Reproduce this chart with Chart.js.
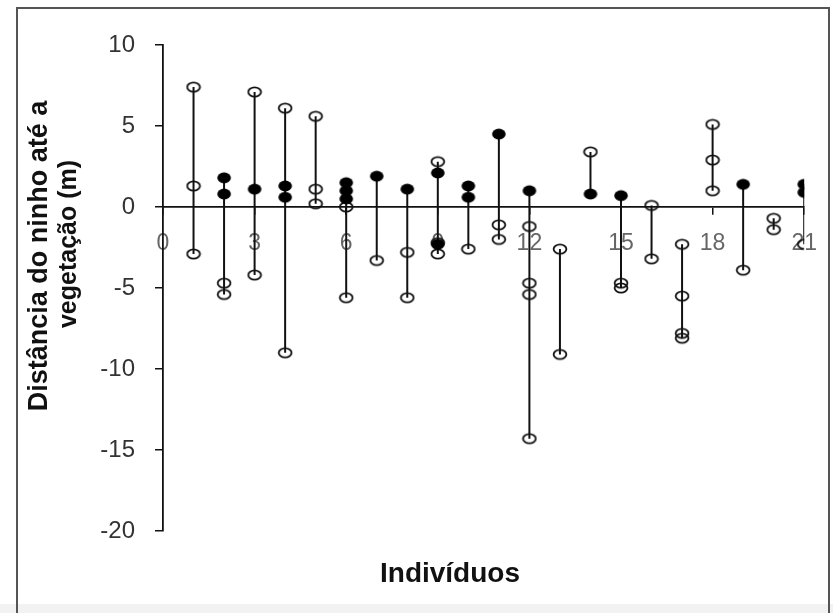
<!DOCTYPE html>
<html>
<head>
<meta charset="utf-8">
<script src="https://cdn.jsdelivr.net/npm/chart.js@4/dist/chart.umd.min.js"></script>
<style>
  html, body { margin: 0; padding: 0; background: #fff; }
  #wrap { width: 833px; height: 613px; }
</style>
</head>
<body>
<div id="wrap"><canvas id="c" width="833" height="613"></canvas></div>
<script>
// ---- data ----
const individuals = [1,2,3,4,5,6,7,8,9,10,11,12,13,14,15,16,17,18,19,20,21];
const openPoints = [
  [7.4, 1.3, -2.9],
  [-4.7, -5.4],
  [7.1, -4.2],
  [6.1, -9.0],
  [5.6, 1.1, 0.2],
  [0.0, -5.6],
  [-3.3],
  [-2.8, -5.6],
  [2.8, -2.2, -2.9],
  [-2.6],
  [-1.1, -2.0],
  [-1.2, -4.7, -5.4, -14.3],
  [-2.6, -9.1],
  [3.4],
  [-4.7, -5.0],
  [0.1, -3.2],
  [-2.3, -5.5, -7.8, -8.1],
  [5.1, 2.9, 1.0],
  [-3.9],
  [-0.7, -1.4],
  [-2.3]
];
const filledPoints = [
  [],
  [1.8, 0.8],
  [1.1],
  [1.3, 0.6],
  [],
  [1.5, 1.0, 0.5],
  [1.9],
  [1.1],
  [2.1, -2.3],
  [1.3, 0.6],
  [4.5],
  [1.0],
  [],
  [0.8],
  [0.7],
  [],
  [],
  [],
  [1.4],
  [],
  [1.4, 0.9]
];
const xTicks = [0, 3, 6, 9, 12, 15, 18, 21];
const yTicks = [-20, -15, -10, -5, 0, 5, 10];
const xTitle = 'Indivíduos';
const yTitleLines = ['Distância do ninho até a', 'vegetação (m)'];

// ---- build datasets ----
const rangeData = [];
const openData = [];
const filledData = [];
individuals.forEach((ind, i) => {
  const all = openPoints[i].concat(filledPoints[i]);
  rangeData.push({x: ind, y: Math.min(...all)});
  rangeData.push({x: ind, y: Math.max(...all)});
  rangeData.push({x: ind, y: null});
  openPoints[i].forEach(v => openData.push({x: ind, y: v}));
  filledPoints[i].forEach(v => filledData.push({x: ind, y: v}));
});

function makeMarker(filled) {
  const cv = document.createElement('canvas');
  cv.width = 16; cv.height = 14;
  const g = cv.getContext('2d');
  g.beginPath();
  if (filled) {
    g.ellipse(8, 7, 6.8, 5.4, 0, 0, Math.PI * 2);
    g.fillStyle = '#000';
    g.fill();
  } else {
    g.ellipse(8, 7, 6.4, 4.6, 0, 0, Math.PI * 2);
    g.strokeStyle = '#111';
    g.lineWidth = 1.8;
    g.stroke();
  }
  return cv;
}
const openMarker = makeMarker(false);
const filledMarker = makeMarker(true);

const decor = {
  id: 'decor',
  beforeDraw(chart) {
    const ctx = chart.ctx;
    ctx.save();
    ctx.fillStyle = '#f2f2f2';
    ctx.fillRect(0, 604, 833, 9);
    ctx.restore();
  },
  afterDraw(chart) {
    const ctx = chart.ctx;
    ctx.save();
    ctx.strokeStyle = '#555';
    ctx.lineWidth = 2;
    ctx.strokeRect(17, 8, 812, 620);
    ctx.fillStyle = '#111';
    ctx.font = 'bold 28px "Liberation Sans", Arial, sans-serif';
    ctx.textAlign = 'center';
    ctx.textBaseline = 'alphabetic';
    ctx.fillText(xTitle, 450, 582);
    ctx.font = 'bold 27px "Liberation Sans", Arial, sans-serif';
    ctx.save();
    ctx.translate(47, 256);
    ctx.rotate(-Math.PI / 2);
    ctx.fillText(yTitleLines[0], 0, 0);
    ctx.restore();
    ctx.save();
    ctx.translate(76, 244);
    ctx.rotate(-Math.PI / 2);
    ctx.font = 'bold 25px "Liberation Sans", Arial, sans-serif';
    ctx.fillText(yTitleLines[1], 0, 0);
    ctx.restore();
    ctx.restore();
  }
};

new Chart(document.getElementById('c'), {
  type: 'scatter',
  data: {
    datasets: [
      {
        label: 'range',
        type: 'line',
        data: rangeData,
        showLine: true,
        spanGaps: false,
        borderColor: '#111',
        borderWidth: 2,
        pointRadius: 0,
        fill: false,
        order: 3
      },
      {
        label: 'open',
        data: openData,
        pointStyle: openMarker,
        pointRadius: 6,
        order: 2
      },
      {
        label: 'filled',
        data: filledData,
        pointStyle: filledMarker,
        pointRadius: 6,
        order: 1
      }
    ]
  },
  options: {
    responsive: false,
    animation: false,
    devicePixelRatio: 1,
    events: [],
    layout: { padding: { left: 20, right: 28, top: 45, bottom: 82 } },
    plugins: { legend: { display: false }, tooltip: { enabled: false } },
    scales: {
      x: {
        type: 'linear',
        position: { y: 0 },
        min: 0,
        max: 21,
        afterBuildTicks: s => { s.ticks = xTicks.map(v => ({ value: v })); },
        ticks: {
          color: '#666',
          font: { family: '"Liberation Sans", Arial, sans-serif', size: 23 },
          padding: 16,
          maxRotation: 0,
          autoSkip: false
        },
        grid: { drawOnChartArea: false, drawTicks: true, tickLength: 7, color: '#111', lineWidth: 1.5 },
        border: { display: true, color: '#111', width: 1.8 }
      },
      y: {
        type: 'linear',
        position: 'left',
        min: -20,
        max: 10,
        afterBuildTicks: s => { s.ticks = yTicks.map(v => ({ value: v })); },
        afterFit: s => { s.width = 143; },
        ticks: {
          color: '#333',
          font: { family: '"Liberation Sans", Arial, sans-serif', size: 24 },
          padding: 20,
          autoSkip: false
        },
        grid: { drawOnChartArea: false, drawTicks: true, tickLength: 8, color: '#111', lineWidth: 1.5 },
        border: { display: true, color: '#111', width: 1.8 }
      }
    }
  },
  plugins: [decor]
});
</script>
</body>
</html>
